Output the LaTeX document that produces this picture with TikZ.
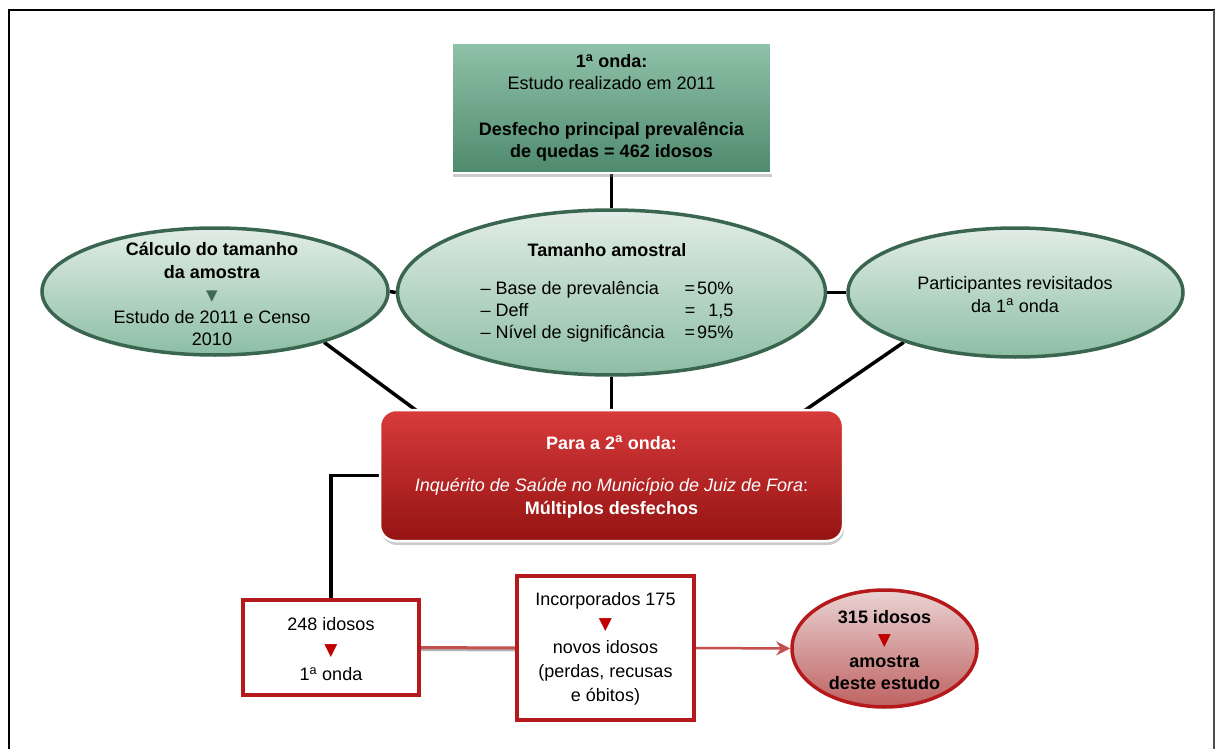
\documentclass[tikz,border=0pt]{standalone}
\usepackage{fontspec}
\setmainfont{Liberation Sans}
\newfontfamily\symfont{DejaVu Sans}
\usetikzlibrary{shapes.geometric,shadows,calc,backgrounds,arrows.meta}
\definecolor{gtop}{HTML}{8FC2A8}
\definecolor{gbot}{HTML}{4F8A6D}
\definecolor{elltop}{HTML}{E2EDE7}
\definecolor{ellbot}{HTML}{8CBEA4}
\definecolor{ellborder}{HTML}{3A6650}
\definecolor{rtop}{HTML}{D83B3B}
\definecolor{rbot}{HTML}{951313}
\definecolor{rborder}{HTML}{B5191B}
\definecolor{ptop}{HTML}{EAD3D3}
\definecolor{pbot}{HTML}{BF6262}
\definecolor{rline}{HTML}{C4504E}
\definecolor{tricol}{HTML}{C00000}
\definecolor{gtricol}{HTML}{3D6B50}
\newcommand{\redtri}{{\symfont\fontsize{17}{17}\selectfont\color{tricol}▼}}
\newcommand{\greentri}{{\symfont\fontsize{15}{15}\selectfont\color{gtricol}▼}}
\begin{document}
\begin{tikzpicture}[x=1pt,y=-1pt,font=\fontsize{18}{22.5}\selectfont,
  conn/.style={line width=3.5pt,draw=black},
  gbox/.style={rectangle,draw=white,line width=2pt,top color=gtop,bottom color=gbot,
    drop shadow={opacity=0.4,shadow xshift=1pt,shadow yshift=-4pt}},
  gell/.style={ellipse,draw=ellborder,line width=3.5pt,top color=elltop,bottom color=ellbot,inner sep=0pt},
  rbox/.style={rectangle,rounded corners=16pt,draw=white,line width=2.5pt,top color=rtop,bottom color=rbot,
    drop shadow={opacity=0.4,shadow xshift=1pt,shadow yshift=-4pt}},
  wbox/.style={rectangle,draw=rborder,line width=3.5pt,fill=white,inner sep=0pt},
  pell/.style={ellipse,draw=rborder,line width=3.5pt,top color=ptop,bottom color=pbot,inner sep=0pt},
  txt/.style={align=center,inner sep=0pt}]
\useasboundingbox (0,0) rectangle (1216,749);
% frame
\draw[line width=2.5pt,black] (9,749) -- (9,10) -- (1215,10);
\draw[line width=1.5pt,black!70] (1214,10) -- (1214,749);

% shapes
\node[gbox,minimum width=319pt,minimum height=130pt] (top) at (611.5,108) {};
\node[gell,minimum width=346pt,minimum height=127pt] (L) at (215,291.5) {};
\node[gell,minimum width=428pt,minimum height=165pt] (C) at (611.5,292.5) {};
\node[gell,minimum width=335pt,minimum height=129pt] (R) at (1015.5,292.5) {};
\node[rbox,minimum width=463pt,minimum height=131pt] (red) at (611.5,475.5) {};
\node[wbox,minimum width=176pt,minimum height=95pt] (b248) at (331,647.5) {};
\node[wbox,minimum width=177pt,minimum height=144pt] (inc) at (605.5,648) {};
\node[pell,minimum width=185pt,minimum height=117pt] (E) at (884.5,648.5) {};

% texts
\node[txt] (topt) at (611.5,108) {\textbf{1\textsuperscript{a} onda:}\\Estudo realizado em 2011\\[23pt]\textbf{Desfecho principal prevalência}\\\textbf{de quedas = 462 idosos}};
\node[txt] (Lt) at (212,294) {\textbf{Cálculo do tamanho}\\\textbf{da amostra}\\\greentri\\Estudo de 2011 e Censo\\2010};
\node[txt] (Ct) at (607,294) {\textbf{Tamanho amostral}\\[22pt]
  \def\arraystretch{0.96}\begin{tabular}{@{}l@{\hspace{20pt}}l@{\hspace{2pt}}r@{}}
  – Base de prevalência & = & 50\%\\
  – Deff & = & 1,5\\
  – Nível de significância & = & 95\%
  \end{tabular}};
\node[txt] (Rt) at (1015,294.5) {Participantes revisitados\\da 1\textsuperscript{a} onda};
\node[txt,text=white] (redt) at (611.5,477) {\textbf{Para a 2\textsuperscript{a} onda:}\\[20pt]\textit{Inquérito de Saúde no Município de Juiz de Fora}:\\\textbf{Múltiplos desfechos}};
\node[txt,font=\fontsize{18}{25}\selectfont] (b248t) at (331,649) {248 idosos\\\redtri\\1\textsuperscript{a} onda};
\node[txt,font=\fontsize{18}{24}\selectfont] (inct) at (605.5,649) {Incorporados 175\\\redtri\\novos idosos\\(perdas, recusas\\e óbitos)};
\node[txt,font=\fontsize{18}{22}\selectfont] (Et) at (884.5,650) {\textbf{315 idosos}\\\redtri\\\textbf{amostra}\\\textbf{deste estudo}};

\coordinate (rl) at ($(red.north west)+(38,2)$);
\coordinate (rr) at ($(red.north east)+(-40,2)$);

% connectors
\begin{scope}[on background layer]
\draw[conn] (top.south) -- (C.north);
\draw[conn] (L.east) -- (C.west);
\draw[conn] (C.east) -- (R.west);
\draw[conn] (C.south) -- (red.north);
\draw[conn] (L.-25) -- (rl);
\draw[conn] (R.204) -- (rr);
\draw[conn] (red.west) -| (b248.north);
\draw[line width=3pt,black!30] ([yshift=-2pt]b248.east) -- ([yshift=-2pt]inc.west);
\draw[line width=3pt,rline] (b248.east) -- (inc.west);
\end{scope}
\draw[line width=2.5pt,rline,-{Stealth[length=14pt,width=14pt]}] (inc.east) -- (E.west);
\end{tikzpicture}
\end{document}
